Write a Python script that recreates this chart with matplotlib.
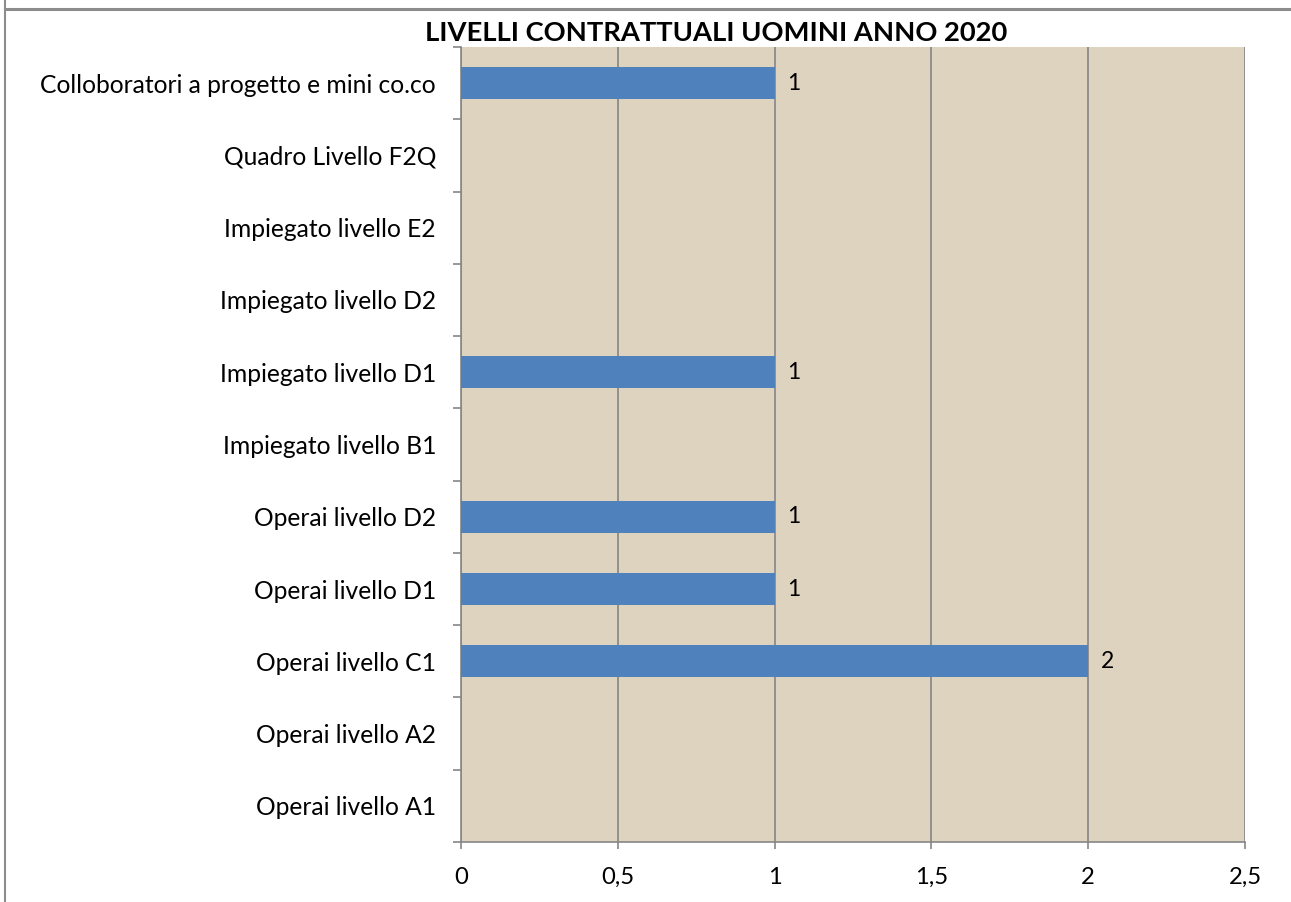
import numpy as np
import matplotlib
matplotlib.use("Agg")
import matplotlib.pyplot as plt
from matplotlib.lines import Line2D
from matplotlib.ticker import FuncFormatter

categorie = [
    "Operai livello A1",
    "Operai livello A2",
    "Operai livello C1",
    "Operai livello D1",
    "Operai livello D2",
    "Impiegato livello B1",
    "Impiegato livello D1",
    "Impiegato livello D2",
    "Impiegato livello E2",
    "Quadro Livello F2Q",
    "Colloboratori a progetto e mini co.co",
]
valori = [0, 0, 2, 1, 1, 0, 1, 0, 0, 0, 1]
titolo = "LIVELLI CONTRATTUALI UOMINI ANNO 2020"

plt.rcParams['font.family'] = ['Lato', 'DejaVu Sans']

fig = plt.figure(figsize=(12.91, 9.02), dpi=100)
ax = fig.add_axes([0.3571, 0.0665, 0.6073, 0.8814])
ax.set_facecolor('#ddd3bf')

y = np.arange(len(categorie))
ax.barh(y, valori, height=0.44, color='#4f81bd', zorder=3)
for yi, v in zip(y, valori):
    if v > 0:
        ax.text(v + 0.04, yi, str(v), va='center', ha='left', fontsize=16.5, zorder=4)

ax.set_xlim(0, 2.5)
ax.set_ylim(-0.5, len(categorie) - 0.5)
ax.set_xticks(np.arange(0, 2.51, 0.5))
ax.xaxis.set_major_formatter(FuncFormatter(lambda v, p: ('%g' % v).replace('.', ',')))
ax.set_yticks(y)
ax.set_yticklabels(categorie)
ax.set_yticks(np.arange(-0.5, len(categorie), 1), minor=True)

ax.tick_params(axis='y', which='major', length=0, pad=18, labelsize=17.7)
ax.tick_params(axis='y', which='minor', length=6, color='#868686', width=1.2)
ax.tick_params(axis='x', which='major', length=5, color='#868686', width=1.2, pad=13, labelsize=17.2)

ax.grid(axis='x', color='#868686', linewidth=1.2, zorder=1)
for s in ['top', 'right']:
    ax.spines[s].set_visible(False)
for s in ['left', 'bottom']:
    ax.spines[s].set_color('#868686')
    ax.spines[s].set_linewidth(1.2)

fig.text(0.555, 0.963, titolo, ha='center', va='center', fontsize=19.7, fontweight='bold')

# cornice grigia
fig.add_artist(Line2D([5/1291, 1], [1 - 9/902, 1 - 9/902], color='#8c8c8c', lw=2.2))
fig.add_artist(Line2D([5/1291, 5/1291], [0, 1], color='#8c8c8c', lw=1.5))

fig.savefig('out.png', dpi=100)
